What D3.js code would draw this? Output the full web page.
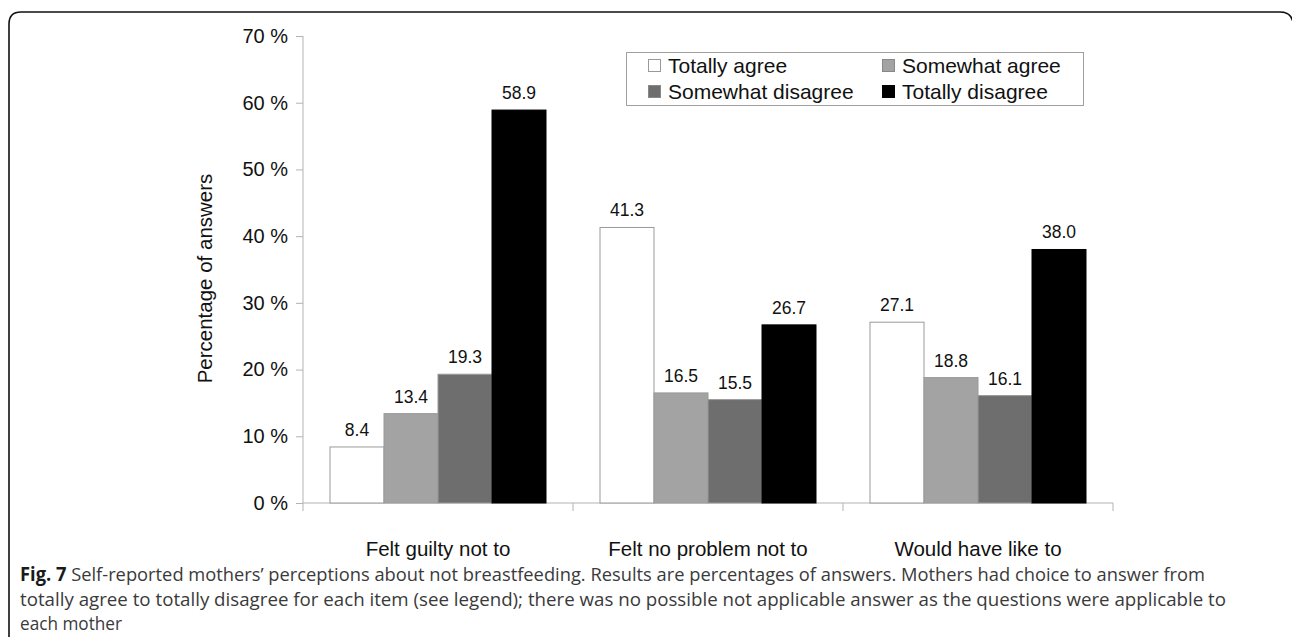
<!DOCTYPE html>
<html><head><meta charset="utf-8">
<script src="https://cdn.jsdelivr.net/npm/d3@7"></script>
<style>body{margin:0;background:#fff}svg{display:block}</style>
</head><body>
<svg id="c" width="1292" height="637"></svg>
<script>
const categories = ["Felt guilty not to", "Felt no problem not to", "Would have like to"];
const seriesNames = ["Totally agree", "Somewhat agree", "Somewhat disagree", "Totally disagree"];
const totallyAgree = [8.4, 41.3, 27.1];
const somewhatAgree = [13.4, 16.5, 18.8];
const somewhatDisagree = [19.3, 15.5, 16.1];
const totallyDisagree = [58.9, 26.7, 38.0];
const yTicks = [0, 10, 20, 30, 40, 50, 60, 70];
const colors = ["#ffffff", "#a3a3a3", "#6e6e6e", "#000000"];
const seriesValues = [totallyAgree, somewhatAgree, somewhatDisagree, totallyDisagree];
const captionLines = [
  "Self-reported mothers\u2019 perceptions about not breastfeeding. Results are percentages of answers. Mothers had choice to answer from",
  "totally agree to totally disagree for each item (see legend); there was no possible not applicable answer as the questions were applicable to",
  "each mother"
];

const svg = d3.select("#c");
// frame
svg.append("path")
  .attr("d", "M9,640 L9,24 Q9,12 21,12 L1280,12 Q1291,12 1293,22")
  .attr("fill", "none").attr("stroke", "#111").attr("stroke-width", 1.6);

const x0 = d3.scaleBand().domain(categories).range([303, 1113]).paddingInner(0.2).paddingOuter(0.1);
const xOuter = d3.scaleBand().domain(categories).range([303, 1113]);
const x1 = d3.scaleBand().domain(seriesNames).range([0, x0.bandwidth()]);
const y = d3.scaleLinear().domain([0, 70]).range([503, 36]);

const font = "'Liberation Sans', Arial, sans-serif";
const axisColor = "#b3b3b3";

// y axis
const yAxis = svg.append("g").attr("transform", "translate(303,0)")
  .call(d3.axisLeft(y).tickValues(yTicks).tickFormat(d => d + " %").tickSize(7).tickPadding(8));
yAxis.select(".domain").attr("stroke", axisColor).attr("d", `M0,${y(70)}V${y(0)}`);
yAxis.selectAll(".tick line").attr("stroke", axisColor);
yAxis.selectAll(".tick text").attr("font-family", font).attr("font-size", 20).attr("fill", "#111");

// x axis
const xg = svg.append("g").attr("transform", `translate(0,${y(0)})`);
xg.append("line").attr("x1", 303).attr("x2", 1113).attr("stroke", axisColor);
const bounds = [303].concat(categories.map(c => xOuter(c) + xOuter.bandwidth()));
xg.selectAll("line.tk").data(bounds).join("line").attr("class", "tk")
  .attr("x1", d => d).attr("x2", d => d).attr("y1", 0).attr("y2", 8).attr("stroke", axisColor);
xg.selectAll("text").data(categories).join("text")
  .attr("x", d => xOuter(d) + xOuter.bandwidth() / 2).attr("y", 53)
  .attr("text-anchor", "middle").attr("font-family", font).attr("font-size", 20.5).attr("fill", "#111")
  .text(d => d);

// y title
svg.append("text").attr("transform", `translate(212,${(y(0) + y(70)) / 2 + 9}) rotate(-90)`)
  .attr("text-anchor", "middle").attr("font-family", font).attr("font-size", 20.5).attr("fill", "#111")
  .text("Percentage of answers");

// bars
const gBars = svg.append("g");
seriesNames.forEach((s, si) => {
  categories.forEach((c, ci) => {
    const v = seriesValues[si][ci];
    const bx = x0(c) + x1(s);
    gBars.append("rect").attr("x", bx).attr("y", y(v)).attr("width", x1.bandwidth()).attr("height", y(0) - y(v))
      .attr("fill", colors[si]).attr("stroke", si === 3 ? "#000" : "#9a9a9a").attr("stroke-width", 1);
    gBars.append("text").attr("x", bx + x1.bandwidth() / 2).attr("y", y(v) - 11)
      .attr("text-anchor", "middle").attr("font-family", font).attr("font-size", 17.5).attr("fill", "#111")
      .text(v.toFixed(1));
  });
});

// legend
const lg = svg.append("g");
lg.append("rect").attr("x", 626.5).attr("y", 52.5).attr("width", 457).attr("height", 53)
  .attr("fill", "#fff").attr("stroke", "#a0a0a0");
const lpos = [[648, 59], [882, 59], [648, 85], [882, 85]];
seriesNames.forEach((s, i) => {
  lg.append("rect").attr("x", lpos[i][0] + 0.5).attr("y", lpos[i][1] + 0.5).attr("width", 12).attr("height", 12)
    .attr("fill", colors[i]).attr("stroke", i === 0 ? "#999" : colors[i] === "#000000" ? "#000" : "#888");
  lg.append("text").attr("x", lpos[i][0] + 20).attr("y", lpos[i][1] + 14)
    .attr("font-family", font).attr("font-size", 21).attr("fill", "#111").text(s);
});

// caption
const cap = svg.append("g").attr("font-family", "'Open Sans', 'Noto Sans', sans-serif").attr("font-size", 19).attr("fill", "#3a3a3a");
const ys = [581, 606, 630];
captionLines.forEach((line, i) => {
  const t = cap.append("text").attr("x", 20).attr("y", ys[i]);
  if (i === 0) {
    t.append("tspan").attr("font-weight", "bold").attr("fill", "#1a1a1a").text("Fig. 7");
    t.append("tspan").text(" " + line);
  } else t.text(line);
});
const ends = [1205, 1226, 122];
cap.selectAll("text").each(function(d, i) {
  d3.select(this).attr("textLength", ends[i] - 20).attr("lengthAdjust", "spacingAndGlyphs");
});
</script>
</body></html>
